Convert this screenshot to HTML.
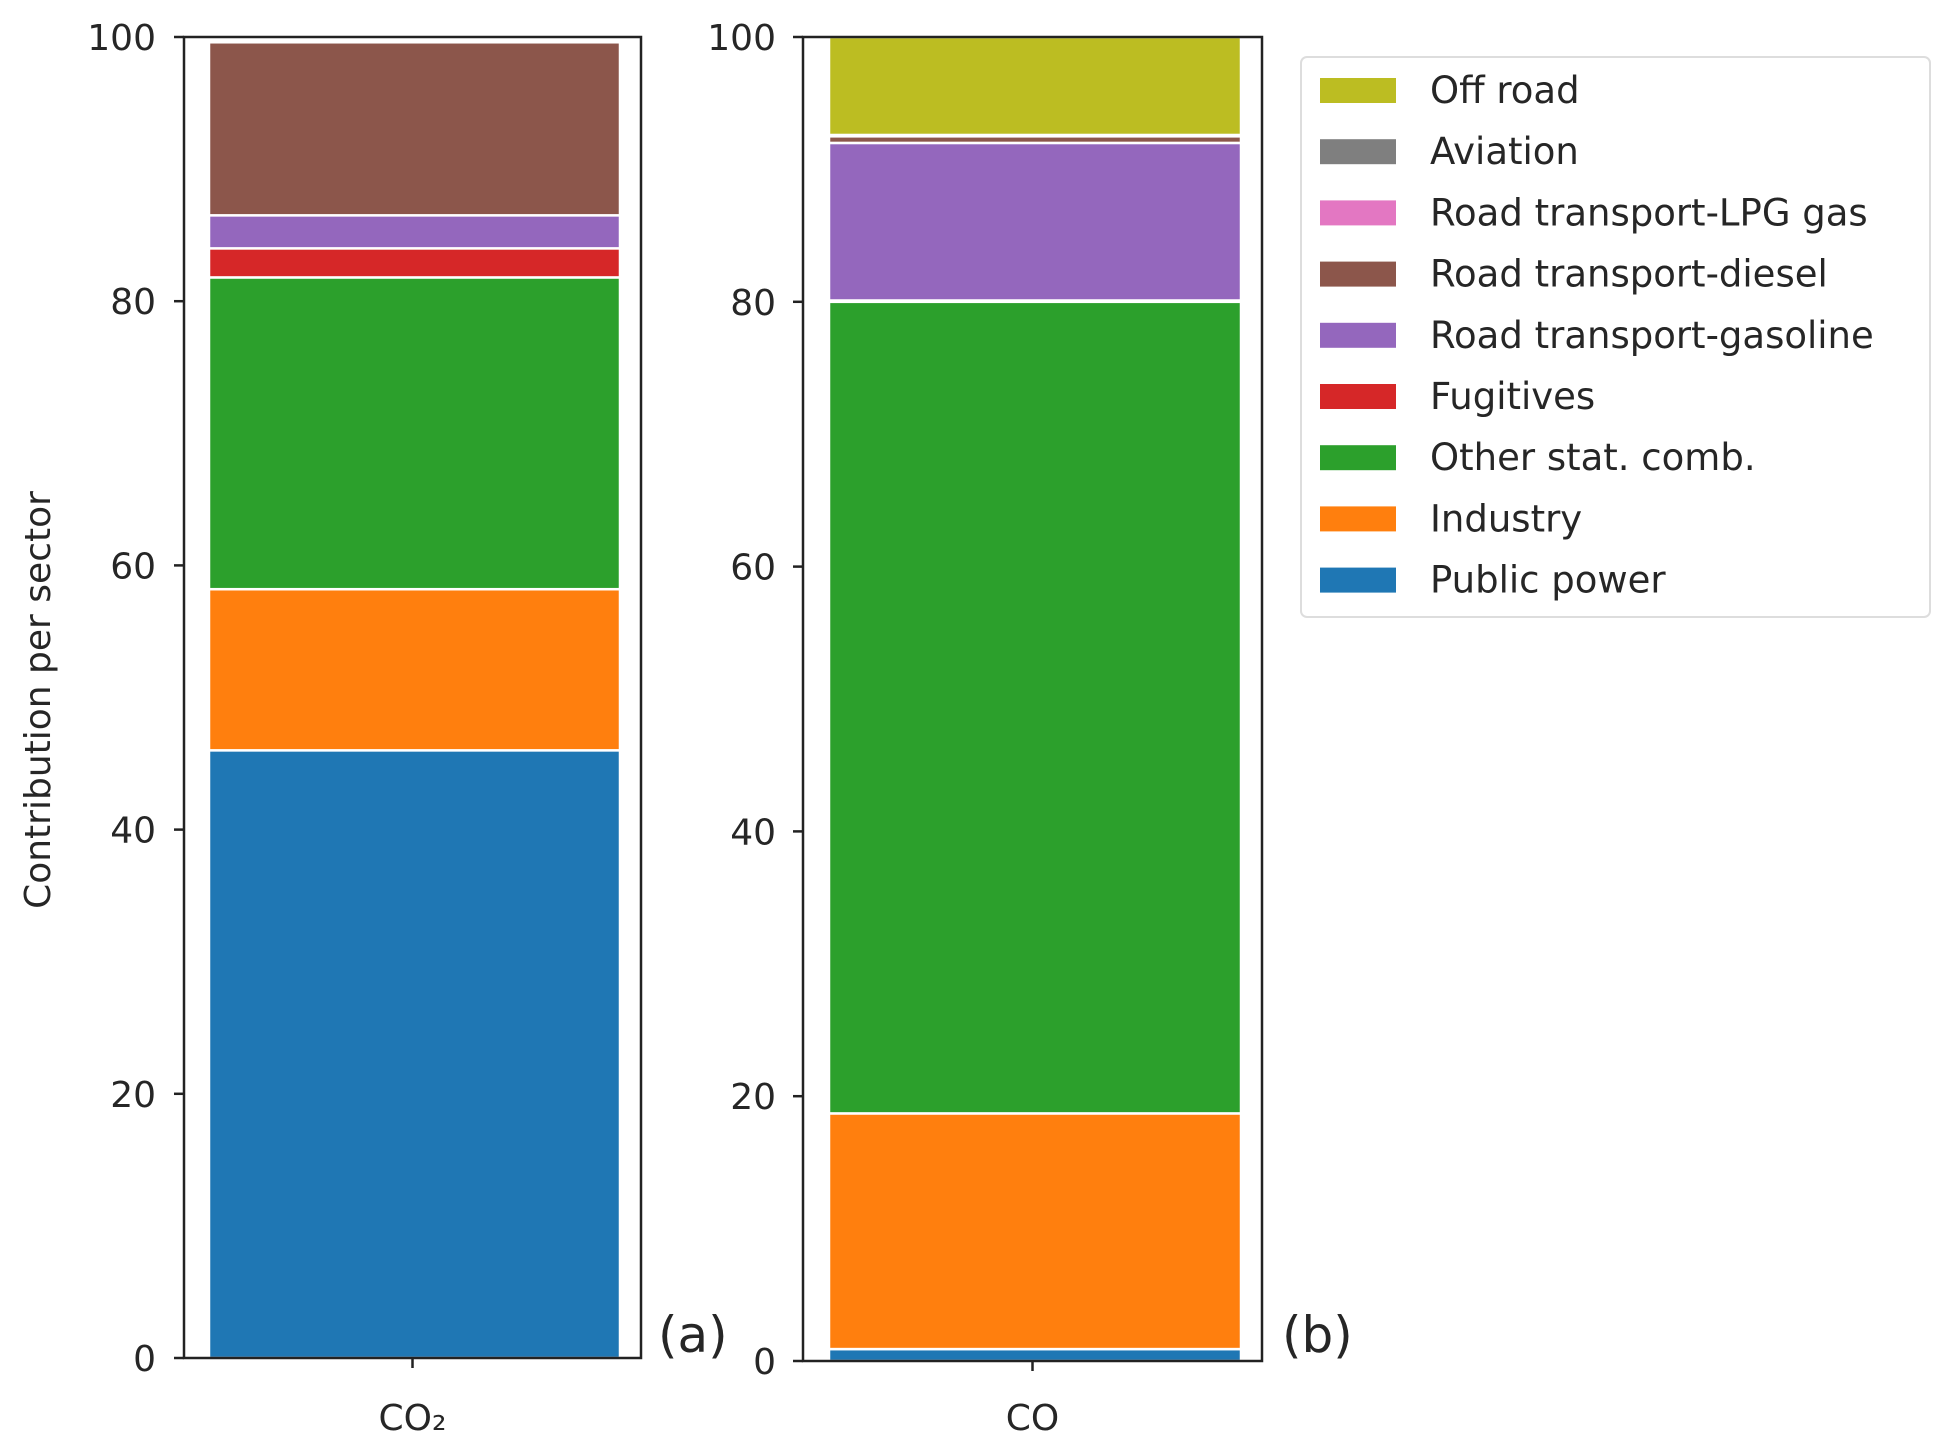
<!DOCTYPE html>
<html><head><meta charset="utf-8"><style>body{margin:0;background:#fff}svg{display:block}text{font-family:"DejaVu Sans","Liberation Sans",sans-serif;fill:#262626}</style></head>
<body>
<svg id="chart" width="1943" height="1444" viewBox="0 0 1943 1444">
<g id="g"></g>
</svg>
<script>
const sectors = ["Public power","Industry","Other stat. comb.","Fugitives","Road transport-gasoline","Road transport-diesel","Road transport-LPG gas","Aviation","Off road"];
const colors = ["#1f77b4","#ff7f0e","#2ca02c","#d62728","#9467bd","#8c564b","#e377c2","#7f7f7f","#bcbd22"];
const co2Values = [46.0,12.2,23.6,2.2,2.5,13.1,0,0,0];
const coValues = [0.9,17.8,61.3,0.1,11.9,0.5,0.1,0,7.4];
const yTicks = [0,20,40,60,80,100];
const NS="http://www.w3.org/2000/svg";
const g=document.getElementById('g');
function el(t,a,txt){const e=document.createElementNS(NS,t);for(const k in a)e.setAttribute(k,a[k]);if(txt!==undefined)e.textContent=txt;g.appendChild(e);return e;}
function panel(p){
  const y=v=>p.y0-(v/100)*(p.y0-p.y1);
  let acc=0;
  p.values.forEach((v,i)=>{
    if(v<=0)return;
    const r=el('rect',{x:p.bx0,y:y(acc+v),width:p.bx1-p.bx0,height:y(acc)-y(acc+v),fill:colors[i],stroke:'#fff','stroke-width':2.5});
    
    
    acc+=v;
  });
  const f=el('rect',{x:p.ax0,y:p.y1,width:p.ax1-p.ax0,height:p.y0-p.y1,fill:'none',stroke:'#222','stroke-width':2.5});
  
  
  yTicks.forEach(t=>{
    el('line',{x1:p.ax0-10,x2:p.ax0,y1:y(t),y2:y(t),stroke:'#222','stroke-width':2.5});
    const tx=el('text',{x:p.lx,y:y(t)+13,'text-anchor':'end','font-size':36},String(t));
    
    
  });
  const cx=(p.ax0+p.ax1)/2;
  el('line',{x1:cx,x2:cx,y1:p.y0,y2:p.y0+10,stroke:'#222','stroke-width':2.5});
  const xl=el('text',{x:cx,y:1430,'text-anchor':'middle','font-size':36},p.xlabel);
  
  
  const pl=el('text',{x:p.px,y:1352,'font-size':50,'font-family':'Liberation Sans'},p.plabel);
  
  
}
panel({name:'co2',values:co2Values,ax0:184,ax1:641,bx0:209,bx1:620,y0:1358,y1:37,lx:156,xlabel:'CO₂',plabel:'(a)',px:658});
panel({name:'co',values:coValues,ax0:803,ax1:1262,bx0:829,bx1:1241,y0:1361,y1:37,lx:776,xlabel:'CO',plabel:'(b)',px:1282});
const yt=el('text',{x:0,y:0,'text-anchor':'middle','font-size':36,transform:'translate(50,700) rotate(-90)'},'Contribution per sector');


const lb=el('rect',{x:1301,y:57,width:629,height:560,rx:6,fill:'#fff',stroke:'#ddd','stroke-width':2});


for(let k=0;k<sectors.length;k++){
  const i=sectors.length-1-k, cy=90+k*61.2;
  const pr=el('rect',{x:1320,y:cy-12,width:76,height:25,fill:colors[i]});
  
  
  const lt=el('text',{x:1430,y:cy+13,'font-size':37},sectors[i]);
  
  
}
</script>
</body></html>
